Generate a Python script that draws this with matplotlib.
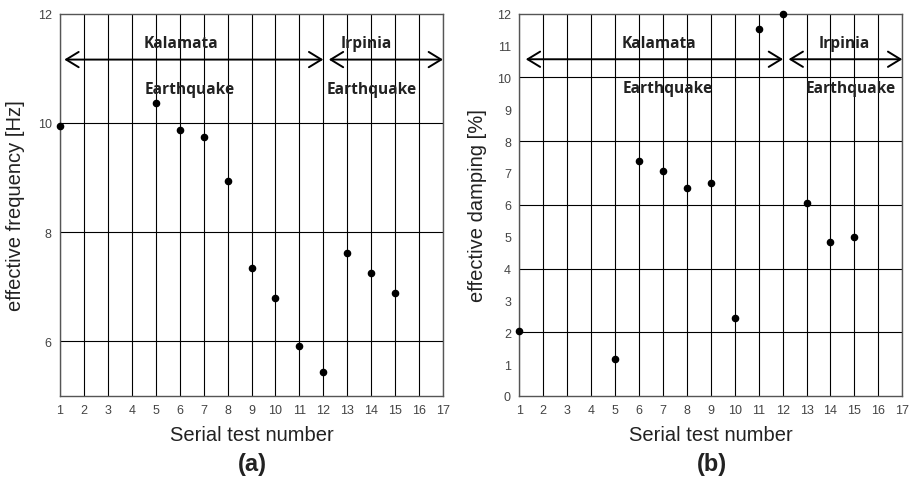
import matplotlib
matplotlib.use("Agg")
import matplotlib.pyplot as plt

tests = [1, 5, 6, 7, 8, 9, 10, 11, 12, 13, 14, 15]
freq = [9.95, 10.37, 9.87, 9.74, 8.94, 7.35, 6.79, 5.91, 5.44, 7.62, 7.25, 6.88]
damp = [2.05, 1.17, 7.39, 7.05, 6.53, 6.70, 2.45, 11.51, 12.0, 6.06, 4.83, 4.99]
xticks = list(range(1, 18))

fig = plt.figure(figsize=(9.14, 4.81), dpi=100)
ax1 = fig.add_axes([60/914, 84/481, 383/914, 382.3/481])
ax2 = fig.add_axes([519.3/914, 84/481, 383/914, 382.3/481])

label_font = dict(family='Liberation Sans', size=14.5, color='#222222')
ann_font = dict(family='Open Sans', size=11.2, weight='bold', color='#222222')

def style(ax, yticks, ylabels, grid_y, ylim):
    ax.set_xlim(1, 17)
    ax.set_ylim(*ylim)
    ax.set_xticks(xticks)
    ax.set_xticklabels([str(v) for v in xticks], family='Liberation Sans', fontsize=9, color='#444444')
    ax.set_yticks(yticks)
    ax.set_yticklabels(ylabels, family='Liberation Sans', fontsize=9, color='#444444')
    ax.tick_params(length=0, pad=6)
    for v in xticks:
        ax.axvline(v, color='black', lw=0.8, zorder=1)
    for v in grid_y:
        ax.axhline(v, color='black', lw=0.8, zorder=1)
    for s in ax.spines.values():
        s.set_color('#555555')
        s.set_linewidth(1.0)
    ax.set_xlabel('Serial test number', labelpad=6, **label_font)

# (a)
style(ax1, [6, 8, 10, 12], ['6', '8', '10', '12'], [6, 8, 10], (5.0, 12.0))
ax1.scatter(tests, freq, s=20, color='black', zorder=5, clip_on=False)
ax1.set_ylabel('effective frequency [Hz]', va='center', **label_font)
ax1.yaxis.set_label_coords(-0.115, 0.5)
arrow = dict(arrowstyle='<->,head_length=0.9,head_width=0.55', color='black', lw=1.4, shrinkA=0, shrinkB=0)
ax1.annotate('', xy=(1.18, 11.16), xytext=(12.0, 11.16), arrowprops=arrow, zorder=4)
ax1.annotate('', xy=(12.23, 11.16), xytext=(17.0, 11.16), arrowprops=arrow, zorder=4, annotation_clip=False)
ax1.text(6.06, 11.46, 'Kalamata', ha='center', va='center', **ann_font)
ax1.text(6.41, 10.63, 'Earthquake', ha='center', va='center', **ann_font)
ax1.text(13.79, 11.46, 'Irpinia', ha='center', va='center', **ann_font)
ax1.text(14.04, 10.63, 'Earthquake', ha='center', va='center', **ann_font)

# (b)
style(ax2, list(range(0, 13)), [str(v) for v in range(0, 13)], [2, 4, 6, 8, 10], (0, 12))
ax2.scatter(tests, damp, s=20, color='black', zorder=5, clip_on=False)
ax2.set_ylabel('effective damping [%]', va='center', **label_font)
ax2.yaxis.set_label_coords(-0.11, 0.5)
ax2.annotate('', xy=(1.27, 10.57), xytext=(12.02, 10.57), arrowprops=arrow, zorder=4)
ax2.annotate('', xy=(12.25, 10.57), xytext=(17.0, 10.57), arrowprops=arrow, zorder=4, annotation_clip=False)
ax2.text(6.85, 11.07, 'Kalamata', ha='center', va='center', **ann_font)
ax2.text(7.2, 9.66, 'Earthquake', ha='center', va='center', **ann_font)
ax2.text(14.59, 11.07, 'Irpinia', ha='center', va='center', **ann_font)
ax2.text(14.85, 9.66, 'Earthquake', ha='center', va='center', **ann_font)

fig.text(252/914, 1 - 465/481, '(a)', ha='center', va='center', family='Liberation Sans', fontsize=17, weight='bold', color='#222222')
fig.text(712/914, 1 - 465/481, '(b)', ha='center', va='center', family='Liberation Sans', fontsize=17, weight='bold', color='#222222')

fig.savefig('out.png', dpi=100)
